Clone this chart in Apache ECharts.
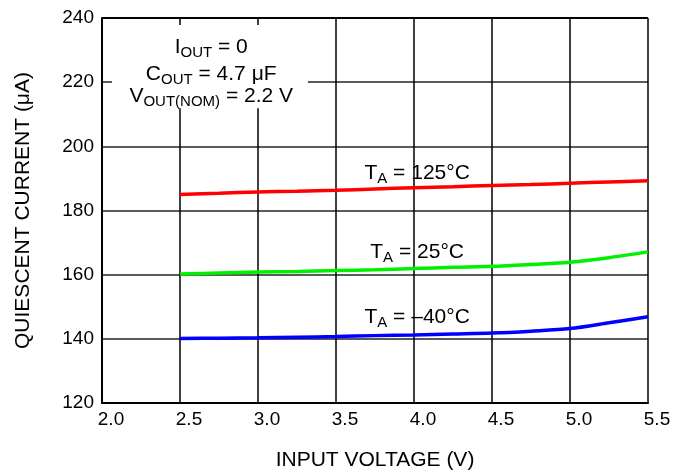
<!DOCTYPE html>
<html>
<head>
<meta charset="utf-8">
<script src="https://cdn.jsdelivr.net/npm/echarts@6/dist/echarts.min.js"></script>
<style>
  html, body { margin: 0; padding: 0; background: #fff; }
  #chart { width: 676px; height: 476px; }
</style>
</head>
<body>
<div id="chart"></div>
<script>
// Input voltage sample points (V)
const inputVoltage = [2.5, 2.75, 3.0, 3.25, 3.5, 3.75, 4.0, 4.25, 4.5, 4.75, 5.0, 5.25, 5.5];
// Quiescent current (µA) at each ambient temperature
const current125C = [185.0, 185.4, 185.8, 186.0, 186.3, 186.7, 187.1, 187.4, 187.8, 188.1, 188.5, 188.9, 189.3];
const current25C = [160.2, 160.5, 160.8, 161.0, 161.3, 161.5, 161.9, 162.3, 162.6, 163.2, 163.9, 165.3, 167.1];
const currentMinus40C = [140.1, 140.2, 140.3, 140.5, 140.7, 141.0, 141.2, 141.5, 141.8, 142.4, 143.2, 145.0, 146.9];

// Axis ranges and tick spacing
const xTicks = { min: 2.0, max: 5.5, interval: 0.5 };
const yTicks = { min: 120, max: 240, interval: 20 };

const FONT = '"Liberation Sans", Arial, Helvetica, sans-serif';

function pairs(ys) {
  return inputVoltage.map((v, i) => [v, ys[i]]);
}

const chart = echarts.init(document.getElementById('chart'), null, { renderer: 'canvas' });

function lineSeries(name, data, color) {
  return {
    name: name,
    type: 'line',
    data: pairs(data),
    smooth: 0.3,
    symbol: 'none',
    lineStyle: { color: color, width: 3.5 },
    z: 5
  };
}

chart.setOption({
  animation: false,
  backgroundColor: '#ffffff',
  grid: { left: 102, right: 28, top: 18, bottom: 73, containLabel: false },
  xAxis: {
    type: 'value',
    min: xTicks.min, max: xTicks.max, interval: xTicks.interval,
    name: 'INPUT VOLTAGE (V)',
    nameLocation: 'middle',
    nameGap: 47,
    nameTextStyle: { fontFamily: FONT, fontSize: 21, color: '#000' },
    axisLine: { show: true, onZero: false, lineStyle: { color: '#000', width: 2 } },
    axisTick: { show: false },
    axisLabel: {
      fontFamily: FONT, fontSize: 19, color: '#000', margin: 7,
      padding: [0, 0, 0, 18],
      formatter: v => v.toFixed(1)
    },
    splitLine: { show: true, lineStyle: { color: '#000', width: 1.5 } }
  },
  yAxis: {
    type: 'value',
    min: yTicks.min, max: yTicks.max, interval: yTicks.interval,
    name: 'QUIESCENT CURRENT (μA)',
    nameLocation: 'middle',
    nameGap: 68,
    nameTextStyle: { fontFamily: FONT, fontSize: 21, color: '#000' },
    axisLine: { show: true, onZero: false, lineStyle: { color: '#000', width: 2 } },
    axisTick: { show: false },
    axisLabel: {
      fontFamily: FONT, fontSize: 19, color: '#000', margin: 8,
      padding: [0, 0, 6, 0]
    },
    splitLine: {
      show: true,
      lineStyle: { color: ['#000', '#5a5a5a', '#5a5a5a', '#5a5a5a', '#5a5a5a', '#5a5a5a', '#000'], width: 2 }
    }
  },
  series: [
    lineSeries('125', current125C, '#ff0000'),
    lineSeries('25', current25C, '#00f000'),
    lineSeries('-40', currentMinus40C, '#0000ff')
  ]
});

// Place annotations in data space
function px(v, y) { return chart.convertToPixel({ gridIndex: 0 }, [v, y]); }

const richStyles = {
  n: { fontFamily: FONT, fontSize: 21, fill: '#000' },
  s: { fontFamily: FONT, fontSize: 15, fill: '#000', padding: [12, 0, 0, 0] }
};

function richText(str, v, y) {
  const p = px(v, y);
  return {
    type: 'text',
    x: p[0], y: p[1],
    z: 20,
    style: {
      text: str,
      align: 'center',
      verticalAlign: 'middle',
      fontFamily: FONT,
      fontSize: 21,
      fill: '#000',
      rich: richStyles
    }
  };
}

const boxTL = px(2.064, 237.8);
const boxBR = px(3.32, 211.9);

chart.setOption({
  graphic: [
    {
      type: 'rect',
      z: 10,
      shape: { x: boxTL[0], y: boxTL[1], width: boxBR[0] - boxTL[0], height: boxBR[1] - boxTL[1] },
      style: { fill: '#fff' }
    },
    richText('{n|I}{s|OUT}{n| = 0}', 2.70, 231.0),
    richText('{n|C}{s|OUT}{n| = 4.7 μF}', 2.70, 222.5),
    richText('{n|V}{s|OUT(NOM)}{n| = 2.2 V}', 2.70, 215.6),
    richText('{n|T}{s|A}{n| = 125°C}', 4.02, 191.6),
    richText('{n|T}{s|A}{n| = 25°C}', 4.02, 167.0),
    richText('{n|T}{s|A}{n| = –40°C}', 4.02, 146.7)
  ]
});
</script>
</body>
</html>
